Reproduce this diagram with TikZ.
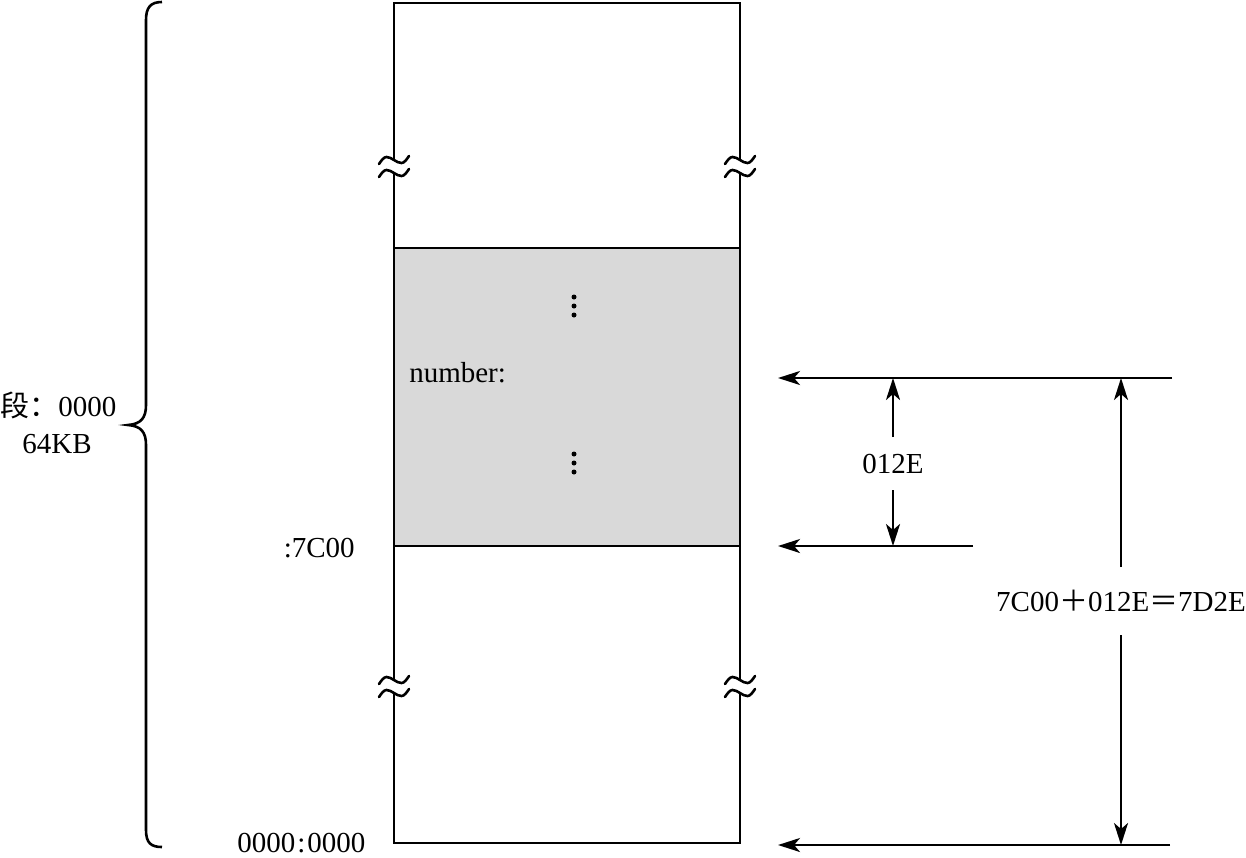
\documentclass[tikz,border=0pt]{standalone}
\usepackage{fontspec}
\setmainfont{Liberation Serif}
\newfontfamily\cjk{Noto Sans CJK SC}
\usetikzlibrary{arrows.meta}
\definecolor{memgray}{HTML}{D9D9D9}
\begin{document}
\begin{tikzpicture}[x=1pt,y=-1pt,line width=2.6pt,
  lbl/.style={inner sep=0pt,font=\fontsize{29}{34}\selectfont},
  arr/.style={-{Stealth[length=22pt,width=14pt,inset=6pt]}},
  brk/.style={line cap=round}]
\useasboundingbox (0,0) rectangle (1246,857);
% shaded block
\fill[memgray] (394,248) rectangle (740,546);
% memory column
\draw (394,160) -- (394,3) -- (740,3) -- (740,160);
\draw (394,173) -- (394,680);
\draw (740,173) -- (740,680);
\draw (394,693) -- (394,843) -- (740,843) -- (740,693);
\draw (394,248) -- (740,248);
\draw (394,546) -- (740,546);
% break marks
\foreach \x in {394,740}
  \foreach \y in {160,173,680,693}
    \draw[brk] (\x-15,\y+4) sin (\x-7.5,\y-3) cos (\x,\y) sin (\x+7.5,\y+3) cos (\x+15,\y-4);
% dots
\foreach \y in {297,306,315} \fill (574,\y) circle (2.5);
\foreach \y in {454,463,472} \fill (574,\y) circle (2.5);
% brace
\draw (162,2) .. controls (151,2) and (146,7) .. (146,20) -- (146,405)
  .. controls (146,418) and (141,424) .. (128,425)
  .. controls (141,426) and (146,432) .. (146,445) -- (146,830)
  .. controls (146,843) and (151,847) .. (162,847);
% labels
\node[lbl,anchor=base west] (seg) at (-1,416) {{\cjk 段：}0000};
\node[lbl,anchor=base] (size) at (57,453) {64KB};
\node[lbl,anchor=base west] (num) at (408,382) {number:};
\node[lbl,anchor=base east] (off7c) at (356,557) {:7C00};
\node[lbl,anchor=base west] (zero) at (236,852) {0000\kern2pt:\kern2pt0000};
\node[lbl,anchor=base] (off) at (893,473) {012E};
\node[lbl,anchor=base] (sum) at (1121,611) {7C00{\cjk ＋}012E{\cjk ＝}7D2E};
% coordinates
\coordinate (t1) at (1172,378); \coordinate (t0) at (778,378);
\coordinate (m1) at (973,546);  \coordinate (m0) at (778,546);
\coordinate (b1) at (1170,845); \coordinate (b0) at (778,845);
\coordinate (o1) at (893,437);  \coordinate (o0) at (893,378);
\coordinate (o2) at (893,490);  \coordinate (o3) at (893,546);
\coordinate (s1) at (1121,567); \coordinate (s0) at (1121,378);
\coordinate (s2) at (1121,635); \coordinate (s3) at (1121,845);
% arrows
\draw[arr] (t1) -- (t0);
\draw[arr] (m1) -- (m0);
\draw[arr] (b1) -- (b0);
\draw[arr] (o1) -- (o0);
\draw[arr] (o2) -- (o3);
\draw[arr] (s1) -- (s0);
\draw[arr] (s2) -- (s3);
\end{tikzpicture}
\end{document}
